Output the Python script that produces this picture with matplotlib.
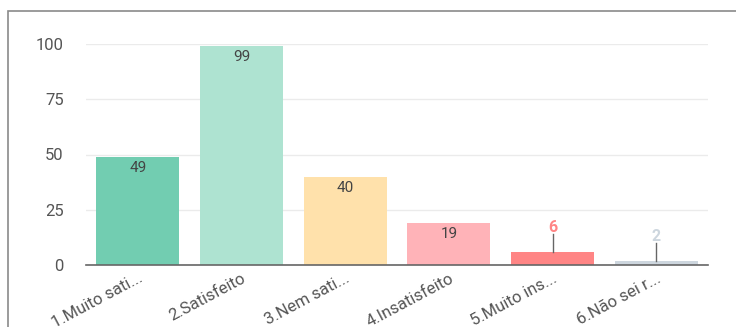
import matplotlib.pyplot as plt
from matplotlib.patches import Rectangle

categories = ["1.Muito sati...", "2.Satisfeito", "3.Nem sati...", "4.Insatisfeito",
              "5.Muito ins...", "6.Não sei r..."]
values = [49, 99, 40, 19, 6, 2]
colors = ["#72cdb1", "#aee3d1", "#ffe1ab", "#ffb3b8", "#ff8585", "#cdd6de"]
label_colors = ["#444444", "#444444", "#444444", "#444444", "#ff8585", "#cdd6de"]

plt.rcParams['font.family'] = ['Roboto', 'DejaVu Sans']

fig = plt.figure(figsize=(7.36, 3.27), dpi=100)
W, H = 736, 327
# panel border (cut off at right and bottom)
fig.patches.append(Rectangle((8 / W, -0.1), 2.0, 1 - 11 / H + 0.1, transform=fig.transFigure,
                             fill=False, edgecolor="#8a8a8a", linewidth=1.2))

ax = fig.add_axes([86 / W, 1 - 265 / H, (708 - 86) / W, (265 - 44) / H])
x = range(len(values))
ax.bar(x, values, width=0.8, color=colors)
ax.set_xlim(-0.5, len(values) - 0.5)
ax.set_ylim(0, 100)
ax.set_yticks([0, 25, 50, 75, 100])
ax.grid(axis='y', color="#ebebeb", linewidth=1)
ax.set_axisbelow(True)
for s in ["top", "right", "left"]:
    ax.spines[s].set_visible(False)
ax.spines["bottom"].set_color("#666666")
ax.spines["bottom"].set_linewidth(1.2)
ax.tick_params(axis='y', length=0, labelsize=12, labelcolor="#555555", pad=16)
ax.tick_params(axis='x', length=0, labelsize=12, labelcolor="#555555", pad=4)
ax.set_xticks(list(x))
ax.set_xticklabels(categories, rotation=28, ha='right', rotation_mode='anchor')

for i, v in enumerate(values):
    if v > 15:
        ax.text(i, v - 5, str(v), ha='center', va='center', fontsize=11, color=label_colors[i])
    else:
        ax.plot([i, i], [v, v + 8], color="#666666", linewidth=1)
        ax.text(i, v + 11, str(v), ha='center', va='center', fontsize=11.5, color=label_colors[i],
                fontweight='bold')

fig.savefig("out.png", dpi=100)
